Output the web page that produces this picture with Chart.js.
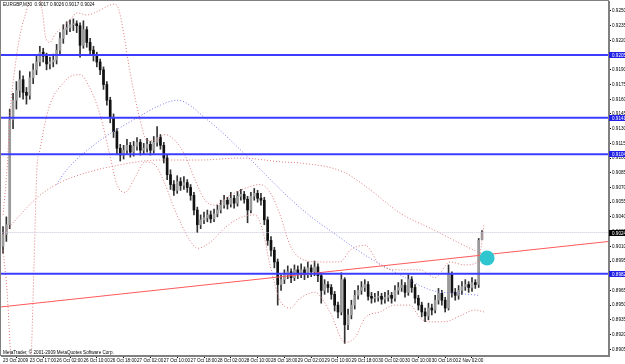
<!DOCTYPE html>
<html><head><meta charset="utf-8">
<script src="https://cdn.jsdelivr.net/npm/chart.js@4/dist/chart.umd.min.js"></script>
<style>html,body{margin:0;padding:0;background:#fff}#wrap{width:625px;height:364px}</style>
</head><body><div id="wrap"><canvas id="c" width="625" height="364"></canvas></div>
<script>
// ---- candle data (bar index 0..143) ----
const opens = [.9010,.9022,.9032,.9139,.9159,.9169,.9180,.9167,.9164,.9182,.9190,.9198,.9208,.9204,.9196,.9198,.9200,.9210,.9222,.9231,.9233,.9236,.9237,.9235,.9215,.9231,.9218,.9210,.9205,.9198,
.9190,.9175,.9159,.9141,.9127,.9110,.9103,.9108,.9113,.9106,.9112,.9116,.9108,.9110,.9114,.9108,.9116,.9121,.9113,.9100,.9083,.9073,.9067,.9076,.9072,.9075,.9070,.9062,.9047,.9032,
.9037,.9039,.9042,.9038,.9043,.9047,.9052,.9057,.9053,.9059,.9054,.9061,.9063,.9058,.9047,.9061,.9064,.9059,.9057,.9037,.9016,.9006,.8994,.8971,.8976,.8981,.8984,.8978,.8986,.8982,
.8986,.8981,.8988,.8984,.8989,.8980,.8965,.8971,.8968,.8961,.8950,.8943,.8976,.8930,.8940,.8950,.8960,.8965,.8968,.8971,.8959,.8957,.8958,.8959,.8956,.8958,.8960,.8957,.8965,.8968,
.8970,.8963,.8976,.8968,.8957,.8950,.8943,.8939,.8947,.8945,.8955,.8962,.8955,.8947,.8981,.8963,.8960,.8965,.8969,.8971,.8968,.8973,.8971,.9017];
const highs = [.9030,.9040,.9150,.9166,.9178,.9189,.9184,.9172,.9188,.9196,.9204,.9214,.9212,.9207,.9203,.9206,.9216,.9228,.9236,.9239,.9241,.9242,.9240,.9238,.9240,.9234,.9222,.9214,.9208,.9201,
.9193,.9178,.9162,.9145,.9130,.9114,.9113,.9119,.9116,.9117,.9121,.9119,.9115,.9120,.9117,.9122,.9132,.9124,.9116,.9103,.9088,.9077,.9082,.9080,.9081,.9078,.9073,.9065,.9050,.9042,
.9045,.9047,.9046,.9048,.9052,.9057,.9062,.9060,.9065,.9062,.9066,.9068,.9066,.9061,.9065,.9069,.9067,.9064,.9060,.9040,.9020,.9009,.8997,.8981,.8986,.8990,.8987,.8991,.8990,.8992,
.8989,.8994,.8991,.8995,.8992,.8983,.8976,.8974,.8971,.8964,.8953,.8983,.8978,.8946,.8955,.8965,.8970,.8974,.8976,.8974,.8963,.8962,.8964,.8962,.8963,.8965,.8963,.8970,.8973,.8976,
.8973,.8981,.8979,.8971,.8960,.8953,.8947,.8952,.8951,.8960,.8967,.8965,.8958,.8991,.8984,.8967,.8970,.8974,.8976,.8974,.8978,.8976,.9018,.9026];
const lows = [.9003,.9015,.9028,.9130,.9150,.9162,.9160,.9155,.9160,.9176,.9185,.9194,.9198,.9190,.9191,.9193,.9196,.9206,.9217,.9226,.9229,.9230,.9228,.9203,.9212,.9213,.9205,.9199,.9193,.9185,
.9170,.9154,.9136,.9121,.9104,.9097,.9099,.9104,.9101,.9102,.9108,.9103,.9104,.9106,.9103,.9105,.9112,.9109,.9095,.9078,.9068,.9062,.9064,.9067,.9068,.9065,.9057,.9042,.9024,.9028,
.9033,.9035,.9034,.9035,.9040,.9044,.9049,.9048,.9050,.9049,.9051,.9057,.9054,.9034,.9044,.9057,.9055,.9052,.9032,.9011,.9000,.8988,.8950,.8965,.8972,.8977,.8973,.8975,.8977,.8978,
.8976,.8978,.8979,.8980,.8974,.8952,.8961,.8963,.8956,.8944,.8937,.8940,.8911,.8925,.8936,.8946,.8956,.8961,.8964,.8955,.8952,.8953,.8954,.8951,.8952,.8954,.8952,.8954,.8961,.8964,
.8958,.8960,.8963,.8952,.8945,.8938,.8933,.8935,.8940,.8942,.8951,.8950,.8943,.8945,.8958,.8955,.8956,.8961,.8965,.8963,.8964,.8967,.8968,.9017];
const closes = [.9022,.9032,.9139,.9159,.9169,.9180,.9167,.9164,.9182,.9190,.9198,.9208,.9204,.9196,.9198,.9200,.9210,.9222,.9231,.9233,.9236,.9237,.9235,.9215,.9231,.9218,.9210,.9205,.9198,.9190,
.9175,.9159,.9141,.9127,.9110,.9103,.9108,.9113,.9106,.9112,.9116,.9108,.9110,.9114,.9108,.9116,.9121,.9113,.9100,.9083,.9073,.9067,.9076,.9072,.9075,.9070,.9062,.9047,.9032,.9037,
.9039,.9042,.9038,.9043,.9047,.9052,.9057,.9053,.9059,.9054,.9061,.9063,.9058,.9047,.9061,.9064,.9059,.9057,.9037,.9016,.9006,.8994,.8971,.8976,.8981,.8984,.8978,.8986,.8982,.8986,
.8981,.8988,.8984,.8989,.8980,.8965,.8971,.8968,.8961,.8950,.8943,.8976,.8930,.8940,.8950,.8960,.8965,.8968,.8971,.8959,.8957,.8958,.8959,.8956,.8958,.8960,.8957,.8965,.8968,.8970,
.8963,.8976,.8968,.8957,.8950,.8943,.8939,.8947,.8945,.8955,.8962,.8955,.8947,.8981,.8963,.8960,.8965,.8969,.8971,.8968,.8973,.8971,.9016,.9024];

// ---- indicator samples (bar index, price) ----
const bbUpperX = [0,1.2,2.1,3.3,5.1,7.2,9.0,10.1,11.0,11.9,12.8,14.0,15.5,17.6,20.0,22.1,25.1,29.0,31.9,33.4,34.6,36.1,37.3,38.8,40.9,43.0,45.4,48.4,51.3,54.3,57.3,60.3,63.3,67.8,72.2,76.7,79.7,82.7,85.7,88.7,94.6,100.6,103.6,108.1,112.5,118.5,124.5,129.0,133.4,137.9,141.8,143.6];
const bbUpperY = [.9042,.9088,.9146,.9185,.9226,.9253,.9277,.9287,.9263,.9246,.9222,.9218,.9226,.9233,.9241,.9248,.9246,.9251,.9256,.9257,.9251,.9226,.9200,.9172,.9139,.9118,.9118,.9124,.9118,.9103,.9078,.9057,.9052,.9062,.9069,.9073,.9065,.9042,.9011,.8998,.8994,.8994,.9006,.9011,.8991,.8986,.8986,.8978,.8994,.8991,.8994,.9032];
const bbLowerX = [0,1.2,2.1,3.0,5.1,8.1,9.3,10.1,11.0,13.1,14.9,17.6,20.0,23.0,26.0,29.0,31.9,34.0,36.4,39.4,42.4,45.4,48.4,51.3,55.8,58.2,61.8,66.3,70.7,75.2,77.6,79.7,82.7,85.7,88.7,93.1,97.6,102.1,105.1,108.1,112.5,117.0,121.5,124.5,127.5,131.9,136.4,140.9,143.6];
const bbLowerY = [.9006,.8965,.8909,.8853,.8833,.8874,.8996,.9088,.9108,.9144,.9162,.9175,.9183,.9185,.9171,.9144,.9103,.9073,.9065,.9080,.9096,.9093,.9073,.9047,.9016,.9008,.9014,.9029,.9039,.9042,.9025,.8991,.8955,.8947,.8957,.8963,.8943,.8912,.8917,.8937,.8943,.8950,.8950,.8937,.8933,.8933,.8939,.8945,.8943];
const maRedX = [0,5.1,11.0,17.0,23.0,31.9,46.9,58.8,70.7,83.6,88.7,101.5,108.7,118.5,128.4,136.4,143.6];
const maRedY = [.9022,.9042,.9062,.9075,.9083,.9091,.9098,.9098,.9100,.9096,.9095,.9086,.9070,.9044,.9027,.9013,.9001];
const maBlueX = [16,19,29,39,47,52,61,74,84,92,98.5,109,118.5,128,136,142];
const maBlueY = [.9073,.9088,.9118,.9139,.9154,.9159,.9139,.9098,.9064,.9040,.9024,.8999,.8981,.8965,.8962,.8960];

// ---- drawn objects ----
const hLevels = [0.9205, 0.9141, 0.9104, 0.8982];
const bidPrice = 0.9024;
const trendX = [-1, 181];
const trendY = [0.8948, 0.9015];
const markerX = [144.5];
const markerY = [0.8998];

// ---- axes ----
const yTicks = [0.8905,0.8920,0.8935,0.8950,0.8965,0.8980,0.8995,0.9010,0.9025,0.9040,0.9055,0.9070,0.9085,0.9100,0.9115,0.9130,0.9145,0.9160,0.9175,0.9190,0.9205,0.9220,0.9235,0.9250];
const xTickIdx = [0,8,16,24,32,40,48,56,64,72,80,88,96,104,112,120,128,136];
const xLabels = ["23 Oct 2009","23 Oct 17:00","26 Oct 02:00","26 Oct 10:00","26 Oct 18:00","27 Oct 02:00","27 Oct 10:00","27 Oct 18:00","28 Oct 02:00","28 Oct 10:00","28 Oct 18:00","29 Oct 02:00","29 Oct 10:00","29 Oct 18:00","30 Oct 02:00","30 Oct 10:00","30 Oct 18:00","2 Nov 02:00"];
const headerText = "EURGBP,M30  0.9017 0.9026 0.9017 0.9024";
const copyrightText = "MetaTrader, \u00a9 2001-2009 MetaQuotes Software Corp.";

const FONT = "'Liberation Sans', Arial, sans-serif";
const pts = (xs, ys) => xs.map((x, k) => ({x: x, y: ys[k]}));
const dotted = (xs, ys, color) => ({type:'line', data: pts(xs, ys), borderColor: color, borderWidth: 1, borderDash:[1,2], pointRadius:0, cubicInterpolationMode:'monotone', order:3});

const datasets = [
  {type:'bar', data: lows.map((l,i)=>({x:i, y:[l, highs[i]]})), backgroundColor:'#333', barThickness:1, grouped:false, order:6},
  {type:'bar', data: opens.map((o,i)=>({x:i, y:[o, closes[i]]})), backgroundColor: c => (closes[c.dataIndex] >= opens[c.dataIndex] ? '#9a9a9a' : '#111'), borderWidth:0, barThickness:2, minBarLength:1, grouped:false, order:5},
  dotted(bbUpperX, bbUpperY, '#e07a7a'),
  dotted(bbLowerX, bbLowerY, '#e07a7a'),
  dotted(maRedX, maRedY, '#e07a7a'),
  dotted(maBlueX, maBlueY, '#7a7aee'),
  {type:'line', data: pts([-1,181],[bidPrice,bidPrice]), borderColor:'#c4c4d8', borderWidth:1, borderDash:[1,1], pointRadius:0, order:2},
  ...hLevels.map(v => ({type:'line', data: pts([-1,181],[v,v]), borderColor:'#3c3cff', borderWidth:2, pointRadius:0, order:2})),
  {type:'line', data: pts(trendX, trendY), borderColor:'#ff5a5a', borderWidth:1, pointRadius:0, order:2},
  {type:'scatter', data: pts(markerX, markerY), pointRadius:7.5, backgroundColor:'#2fc6cf', borderWidth:0, order:1}
];

const framePlugin = {
  id:'frame',
  afterDraw(chart){
    const {ctx, chartArea:a, scales:{y}} = chart;
    ctx.save();
    ctx.strokeStyle = '#808080'; ctx.lineWidth = 1;
    ctx.strokeRect(a.left-0.5, a.top-0.5, a.right-a.left, a.bottom-a.top);
    ctx.font = '4.6px ' + FONT; ctx.textBaseline = 'middle'; ctx.textAlign = 'left';
    ctx.fillStyle = '#000';
    ctx.fillText(headerText, a.left+2, a.top+4);
    ctx.fillText(copyrightText, a.left+2, a.bottom-3);
    const box = (v, bg) => {
      const py = Math.round(y.getPixelForValue(v));
      ctx.fillStyle = bg; ctx.fillRect(a.right, py-3, 20, 6);
      ctx.fillStyle = '#fff'; ctx.fillText(v.toFixed(4), a.right+3, py+0.5);
    };
    hLevels.forEach(v => box(v, '#2020e8'));
    box(bidPrice, '#000');
    ctx.restore();
  }
};

new Chart(document.getElementById('c'), {
  type:'bar',
  data:{datasets},
  options:{
    responsive:false, animation:false, devicePixelRatio:1,
    layout:{autoPadding:false, padding:{left:1, top:1, right:0, bottom:0}},
    plugins:{legend:{display:false}, tooltip:{enabled:false}},
    scales:{
      x:{type:'linear', min:-0.6, max:180.9, offset:false,
         afterBuildTicks: s => { s.ticks = xTickIdx.map(v => ({value:v})); },
         afterFit: s => { s.height = 8; s.paddingLeft = 0; s.paddingRight = 0; },
         ticks:{autoSkip:false, maxRotation:0, align:'start', padding:0, color:'#000', font:{size:4.6, family:FONT}, callback:(v,k)=>xLabels[k]},
         grid:{drawOnChartArea:false, tickLength:2, color:'#000'}, border:{color:'#808080'}},
      y:{position:'right', min:0.88981, max:0.92602,
         afterBuildTicks: s => { s.ticks = yTicks.map(v => ({value:v})); },
         afterFit: s => { s.width = 16; s.paddingTop = 0; s.paddingBottom = 0; },
         ticks:{autoSkip:false, padding:1, color:'#000', font:{size:4.6, family:FONT}, callback: v => v.toFixed(4)},
         grid:{drawOnChartArea:false, tickLength:2, color:'#000'}, border:{color:'#808080'}}
    }
  },
  plugins:[framePlugin]
});
</script></body></html>
